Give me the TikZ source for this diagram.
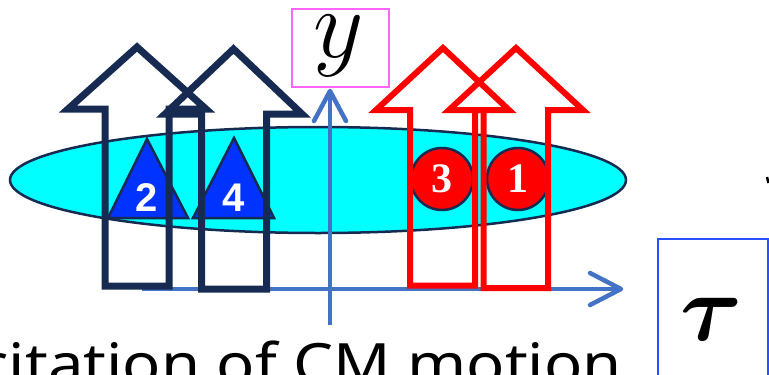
\RequirePackage{fix-cm}
\documentclass[tikz,border=0pt]{standalone}
\usepackage{amsmath}
\usepackage{graphicx}
\usepackage{fontspec}
\newfontfamily\digsans{Liberation Sans}
\newfontfamily\digserif{Liberation Serif}
\newfontfamily\captfont{Noto Sans}
\definecolor{navy}{RGB}{23,43,82}
\definecolor{trifill}{RGB}{0,51,255}
\definecolor{ellfill}{RGB}{0,255,255}
\definecolor{axisblue}{RGB}{68,114,196}
\definecolor{pinkbox}{RGB}{255,102,255}
\definecolor{taubox}{RGB}{40,80,255}
\begin{document}
\begin{tikzpicture}[x=1pt,y=-1pt,
  darkarrow/.style={draw=navy,line width=7pt,line join=miter},
  redarrow/.style={draw=red,line width=6pt,line join=miter},
  axisline/.style={draw=axisblue,line width=4.5pt},
  chevron/.style={draw=axisblue,line width=4.5pt,line cap=round,line join=round},
  tri/.style={draw=navy,fill=trifill,line width=2.5pt,line join=miter},
  ball/.style={circle,draw=navy,fill=red,line width=2.5pt,minimum size=62pt,inner sep=0pt},
  trilabel/.style={text=white,font=\digsans\bfseries\fontsize{40}{40}\selectfont,inner sep=0pt},
  balllabel/.style={text=white,font=\digserif\bfseries\fontsize{42}{42}\selectfont,inner sep=0pt}]
\useasboundingbox (0,0) rectangle (769,375);
\clip (0,0) rectangle (769,375);
% ellipse
\draw[draw=navy,fill=ellfill,line width=2.5pt] (318,180) ellipse [x radius=308,y radius=53];
% axes
\coordinate (hs) at (142,289);
\coordinate (he) at (621,289);
\coordinate (vs) at (330,325);
\coordinate (ve) at (330,91);
\draw[axisline] (hs) -- (he);
\draw[chevron] (590,273) -- (he) -- (590,305);
\draw[axisline] (vs) -- (ve);
\draw[chevron] (314,121) -- (ve) -- (346,121);
% triangles
\draw[tri] (147,139) -- (188,218) -- (108,218) -- cycle;
\draw[tri] (234,138) -- (274,218) -- (193,218) -- cycle;
\node[trilabel] (l2) at (147,198) {2};
\node[trilabel] (l4) at (234,198) {4};
% balls
\node[ball] (b3) at (442,179) {};
\node[ball] (b1) at (518,179) {};
\node[balllabel] (l3) at (b3) {3};
\node[balllabel] (l1) at (b1) {1};
% dark arrows
\draw[darkarrow] (105,286) -- (105,109) -- (68,109) -- (137,47) -- (206,109) -- (169,109) -- (169,286) -- cycle;
\draw[darkarrow] (201.5,289) -- (201.5,114) -- (165,114) -- (233.5,49) -- (302,114) -- (266.5,114) -- (266.5,289) -- cycle;
% red arrows
\draw[redarrow] (410,285.5) -- (410,110) -- (376,110) -- (443,48) -- (509,110) -- (475,110) -- (475,285.5) -- cycle;
\draw[redarrow] (483.5,288) -- (483.5,110) -- (449,110) -- (516,48) -- (583,110) -- (548,110) -- (548,288) -- cycle;
% label boxes
\draw[draw=pinkbox,line width=2pt] (292,9) rectangle (389,87);
\node[inner sep=0pt] (ylab) at (339,46) {\fontsize{98}{98}\selectfont$y$};
\draw[draw=taubox,line width=2pt] (658,239) rectangle (768,400);
\node[inner sep=0pt] (taulab) at (712,319) {\fontsize{95}{95}\selectfont$\boldsymbol{\tau}$};
% fragment at right edge
\draw[line width=2.5pt] (767,177) -- (768.5,183);
% caption
\node[anchor=base east,inner sep=0pt,font=\captfont\fontsize{57}{57}\selectfont] (cap) at (622,384) {\scalebox{1.112}[1]{Excitation of CM motion}};
\end{tikzpicture}
\end{document}
